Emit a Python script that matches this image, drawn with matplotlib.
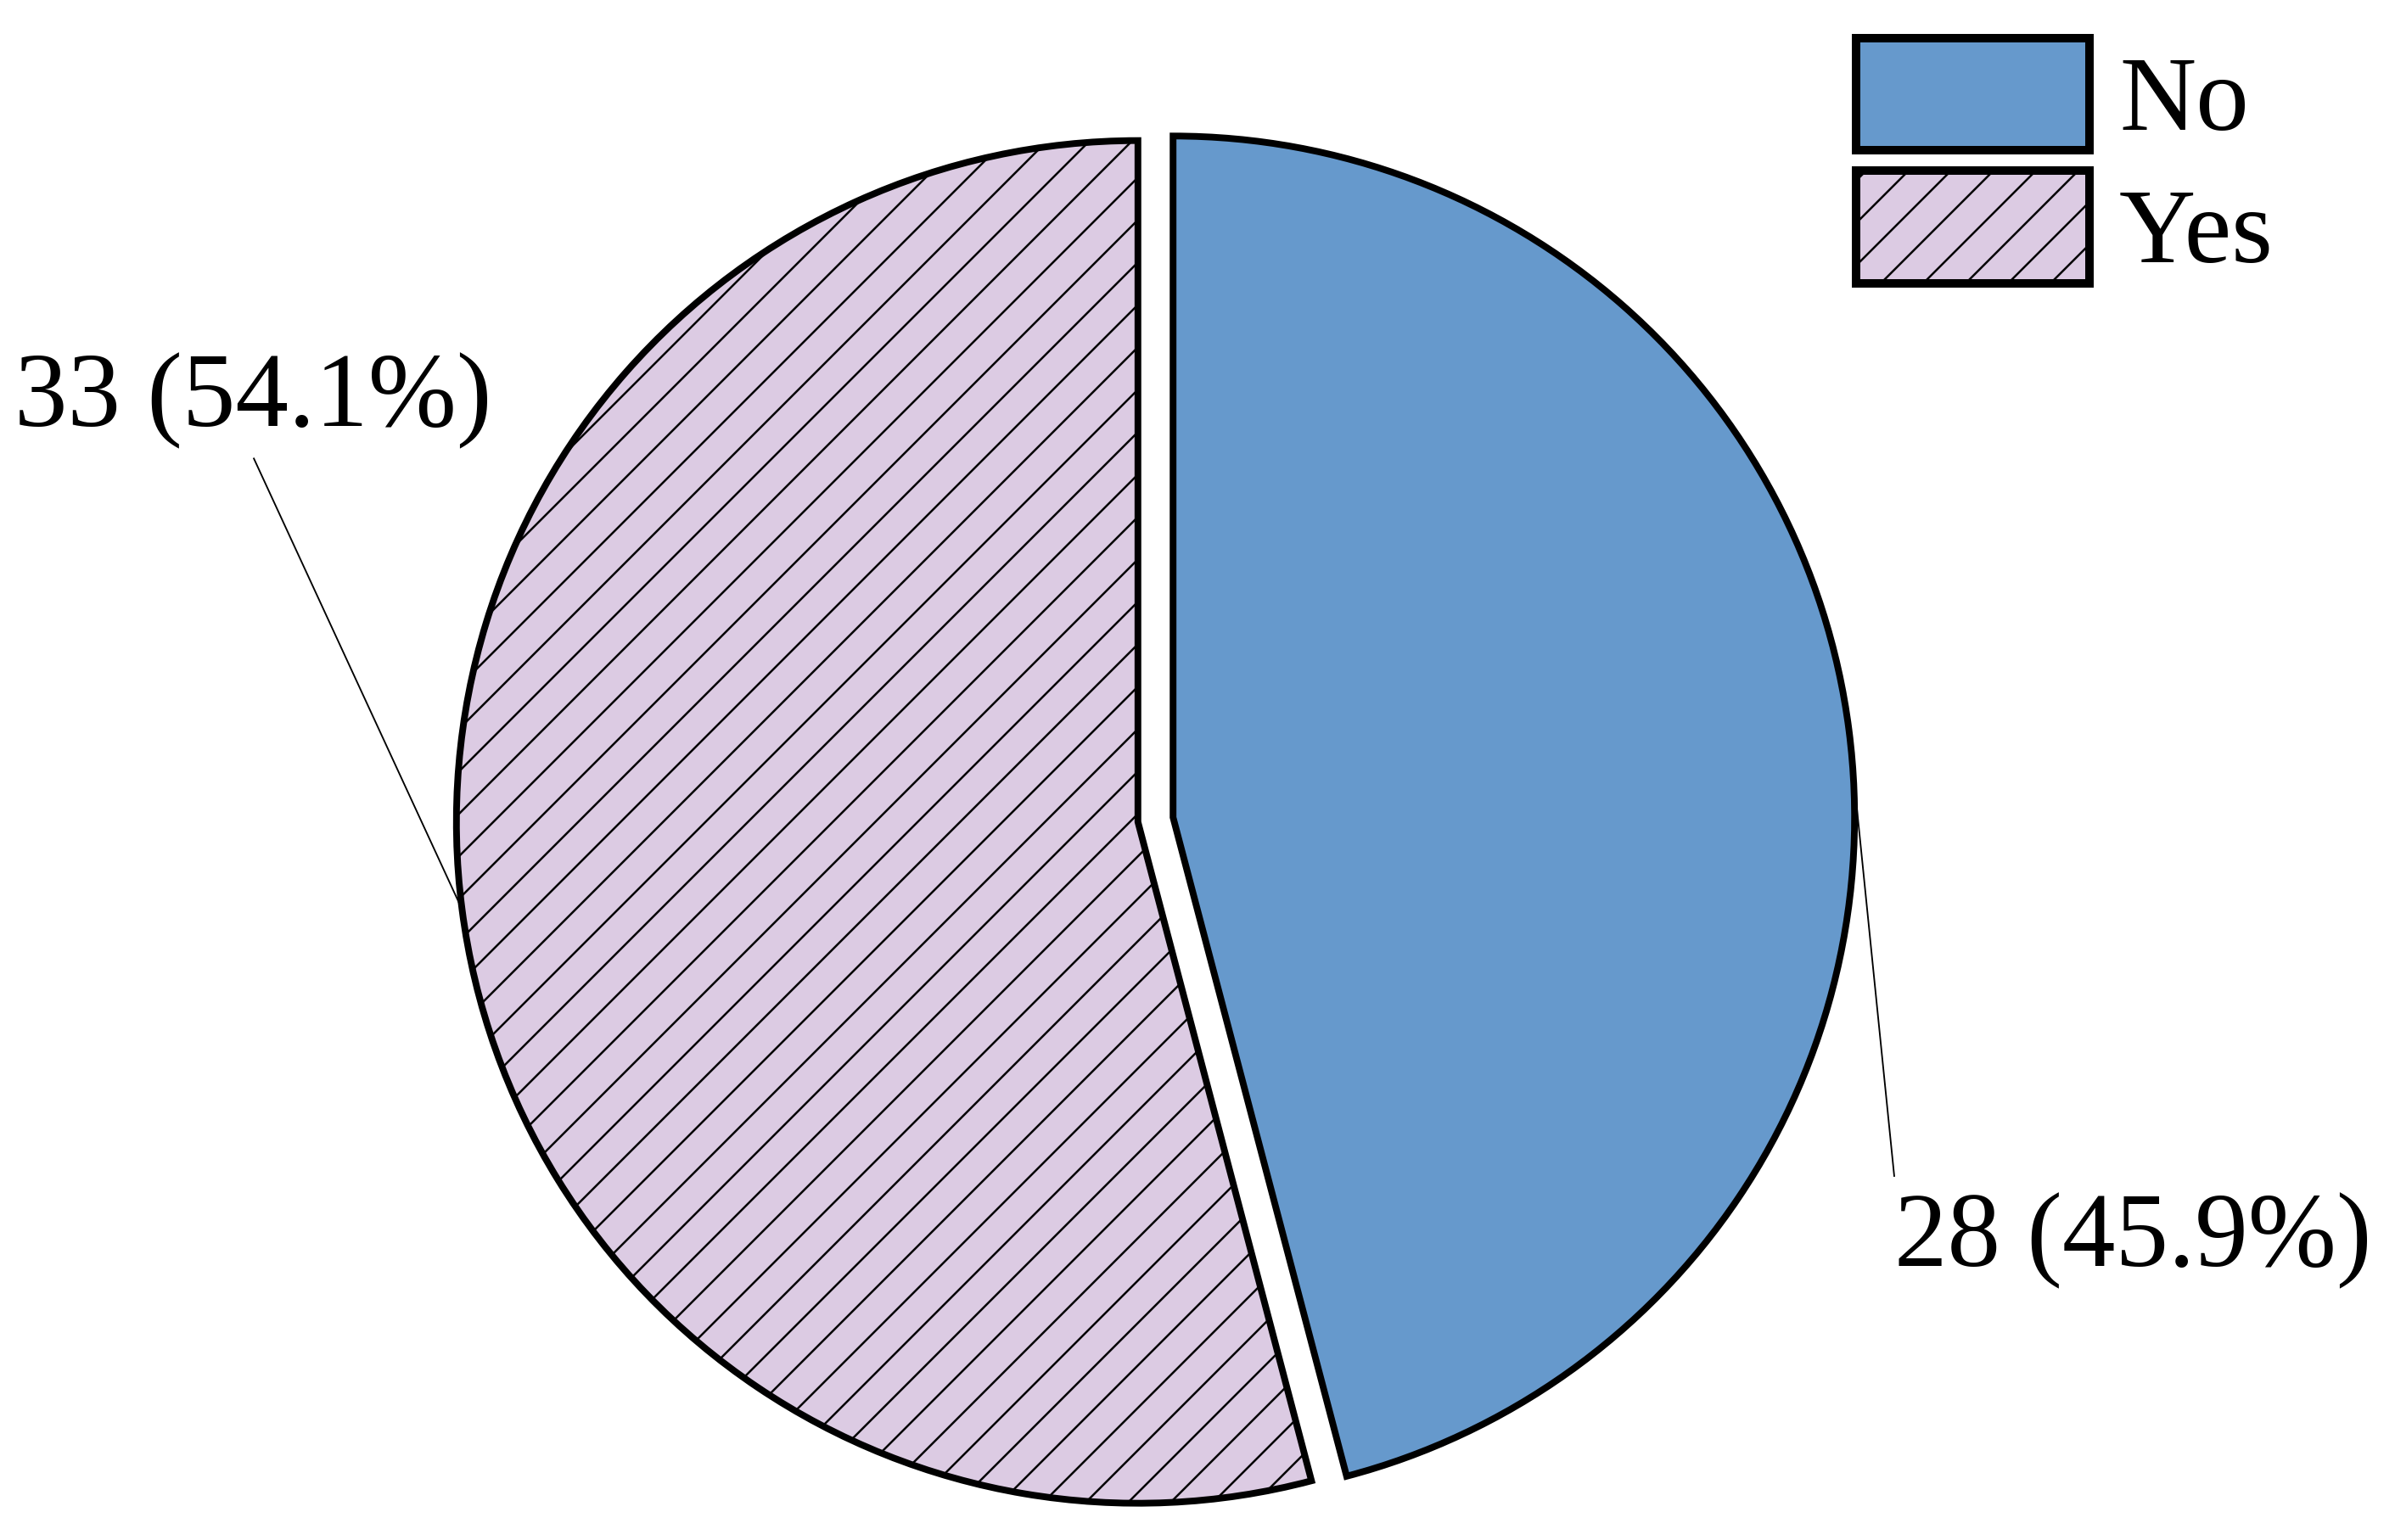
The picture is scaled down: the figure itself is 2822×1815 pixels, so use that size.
import numpy as np
import matplotlib
matplotlib.use("Agg")
import matplotlib.pyplot as plt

categories = ["No", "Yes"]
counts = [28, 33]
colors = ["#6699CC", "#DCCBE3"]
hatches = [None, "//"]

plt.rcParams['font.family'] = ['Liberation Serif', 'DejaVu Serif']
plt.rcParams['hatch.linewidth'] = 0.6
plt.rcParams['hatch.color'] = '#1a0a1a'

W, H, DPI = 2822, 1815, 300
fig = plt.figure(figsize=(W / DPI, H / DPI), dpi=DPI)
ax = fig.add_axes([0, 0, 1, 1])

cx, cy, r = 1361.5, 966.0, 803.0  # pixel layout of pie centre / radius

wedges, _ = ax.pie(counts, startangle=90, counterclock=False,
                   explode=[0.026, 0.026], colors=colors,
                   wedgeprops=dict(edgecolor="black", linewidth=1.9))
for w, h in zip(wedges, hatches):
    if h:
        w.set_hatch(h)

ax.set_xlim(-cx / r, (W - cx) / r)
ax.set_ylim(-(H - cy) / r, cy / r)
ax.set_aspect('equal')
ax.axis('off')

total = sum(counts)
label_layout = {
    "No": dict(end=(1.084, -0.523), text=(1.084, -0.618), ha="left"),
    "Yes": dict(end=(-1.323, 0.530), text=(-1.324, 0.615), ha="center"),
}
for w, cat, n in zip(wedges, categories, counts):
    ang = np.deg2rad((w.theta1 + w.theta2) / 2)
    x0 = w.center[0] + w.r * np.cos(ang)
    y0 = w.center[1] + w.r * np.sin(ang)
    lay = label_layout[cat]
    ax.plot([x0, lay["end"][0]], [y0, lay["end"][1]], color="black", lw=0.45)
    ax.text(lay["text"][0], lay["text"][1], f"{n} ({100 * n / total:.1f}%)",
            ha=lay["ha"], va="center", fontsize=30)

leg = ax.legend(wedges, categories, loc="upper left",
                bbox_to_anchor=(2187 / W, 1 - 45 / H), bbox_transform=fig.transFigure,
                frameon=False, fontsize=30, borderpad=0, borderaxespad=0,
                handlelength=2.2, handleheight=1.25, labelspacing=0.17,
                handletextpad=0.28)
for p in leg.get_patches():
    p.set_linewidth(2.4)

fig.savefig("out.png", dpi=DPI)
